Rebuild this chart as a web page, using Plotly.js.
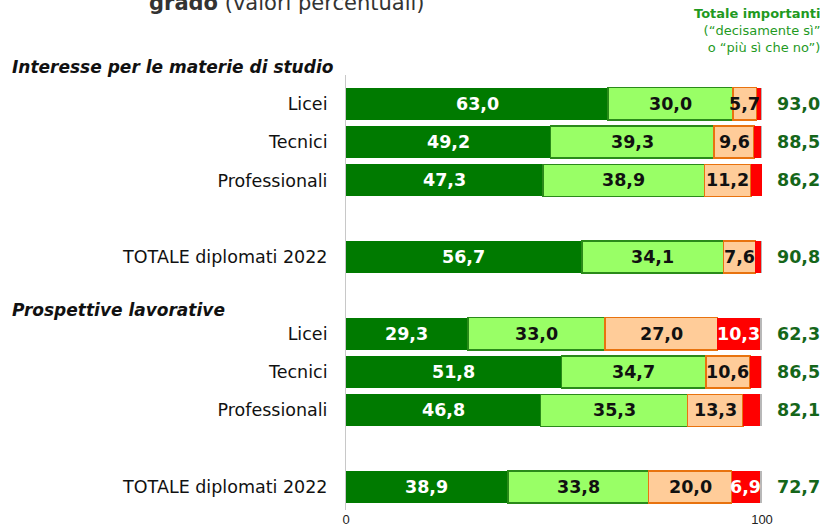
<!DOCTYPE html>
<html>
<head>
<meta charset="utf-8">
<script src="https://cdn.plot.ly/plotly-3.0.1.min.js"></script>
<style>
body{margin:0;background:#fff}
#chart{width:825px;height:529px}
</style>
</head>
<body>
<div id="chart"></div>
<script>
// righe del grafico (dall'alto in basso)
let rowLabels=['Licei','Tecnici','Professionali','TOTALE diplomati 2022','Licei','Tecnici','Professionali','TOTALE diplomati 2022']
let rowPos=[0,1,2,4,6,7,8,10]
// valori percentuali per risposta
let decisamenteSi=[63.0,49.2,47.3,56.7,29.3,51.8,46.8,38.9]
let piuSiCheNo=[30.0,39.3,38.9,34.1,33.0,34.7,35.3,33.8]
let piuNoCheSi=[5.7,9.6,11.2,7.6,27.0,10.6,13.3,20.0]
let decisamenteNo=[1.0,1.6,2.6,1.3,10.3,2.6,4.1,6.9]
let nonRisponde=[0.3,0.3,0,0.3,0.4,0.3,0.5,0.4]
let sections=['Interesse per le materie di studio','Prospettive lavorative']

let series=[
    {name:'decisamente sì',y:decisamenteSi,color:'#007a00',line:'#007a00',lw:0,txt:'#fff'},
    {name:'più sì che no',y:piuSiCheNo,color:'#99ff66',line:'#2a8a1a',lw:1.5,txt:'#111'},
    {name:'più no che sì',y:piuNoCheSi,color:'#ffcc99',line:'#e8730f',lw:1.5,txt:'#111'},
    {name:'decisamente no',y:decisamenteNo,color:'#ff0000',line:'#ff0000',lw:0,txt:'#fff'},
    {name:'non risponde',y:nonRisponde,color:'#b8b8b8',line:'#b8b8b8',lw:0,txt:'#111'}
]

let fmt=v=>v.toFixed(1).replace('.',',')
let X0=346, X1=762, T=75, B=510
let px2paper=p=>(p-X0)/(X1-X0)
let py2paper=p=>(B-p)/(B-T)

let traces=series.map(s=>({
    type:'bar',
    orientation:'h',
    name:s.name,
    x:s.y,
    y:rowPos,
    width:0.84,
    marker:{color:s.color,line:{color:s.line,width:s.lw}},
    hoverinfo:'none'
}))

let annotations=[]
// etichette dentro le barre
rowPos.forEach((p,i)=>{
    let c=0
    series.forEach(s=>{
        let v=s.y[i]
        if(v>=5){
            annotations.push({
                x:c+v/2,y:p,xref:'x',yref:'y',showarrow:false,
                text:fmt(v),
                font:{family:'DejaVu Sans',size:17.5,color:s.txt,weight:'bold'}
            })
        }
        c+=v
    })
    // totale importanti
    annotations.push({
        x:px2paper(822),y:p,xref:'paper',yref:'y',xanchor:'right',showarrow:false,
        text:'<b>'+fmt(decisamenteSi[i]+piuSiCheNo[i])+'</b>',
        font:{family:'DejaVu Sans',size:17.5,color:'#15661a'}
    })
})
// titoli di sezione
annotations.push({
    x:px2paper(10),y:py2paper(67),xref:'paper',yref:'paper',xanchor:'left',yanchor:'middle',showarrow:false,
    text:'<b><i>'+sections[0]+'</i></b>',font:{family:'DejaVu Sans',size:17,color:'#111'}
})
annotations.push({
    x:px2paper(10),y:py2paper(310),xref:'paper',yref:'paper',xanchor:'left',yanchor:'middle',showarrow:false,
    text:'<b><i>'+sections[1]+'</i></b>',font:{family:'DejaVu Sans',size:17,color:'#111'}
})
// intestazione colonna totali
annotations.push({
    x:px2paper(822),y:py2paper(30),xref:'paper',yref:'paper',xanchor:'right',yanchor:'middle',
    showarrow:false,align:'right',
    text:'<b>Totale importanti</b><br>(“decisamente sì”<br>o “più sì che no”)',
    font:{family:'DejaVu Sans',size:13,color:'#1f9a1f'}
})
// titolo (tagliato in alto)
annotations.push({
    x:px2paper(287),y:py2paper(3),xref:'paper',yref:'paper',xanchor:'center',yanchor:'middle',showarrow:false,
    text:'<b>grado</b> (valori percentuali)',
    font:{family:'DejaVu Sans',size:21,color:'#333'}
})

let layout={
    width:825,height:529,
    margin:{l:X0,r:825-X1,t:T,b:529-B},
    barmode:'stack',
    bargap:0,
    showlegend:false,
    separators:',.',
    paper_bgcolor:'#fff',plot_bgcolor:'#fff',
    xaxis:{range:[0,100],tickvals:[0,100],ticktext:['0','100'],showgrid:false,zeroline:false,
        fixedrange:true,tickfont:{family:'Liberation Sans',size:13,color:'#222'}},
    yaxis:{range:[10.6,-0.75],tickvals:rowPos,ticktext:rowLabels,showgrid:false,zeroline:false,
        showline:true,linecolor:'#c8c8c8',linewidth:1,ticks:'',ticklabelstandoff:14,
        tickfont:{family:'DejaVu Sans',size:17.5,color:'#111'}},
    annotations:annotations
}

Plotly.newPlot('chart',traces,layout,{displayModeBar:false,staticPlot:true})
</script>
</body>
</html>
